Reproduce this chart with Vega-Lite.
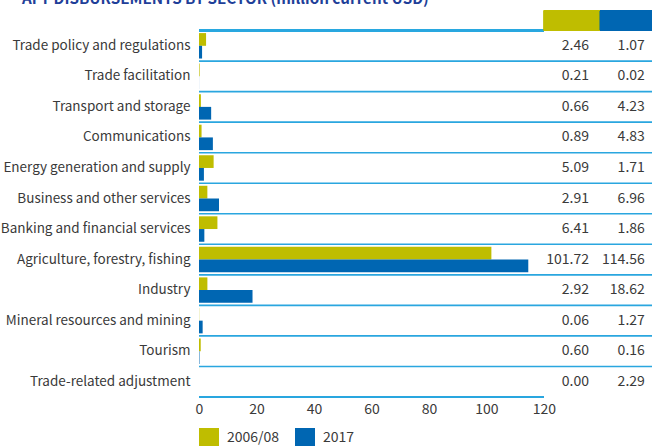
{
  "$schema": "https://vega.github.io/schema/vega-lite/v6.json",
  "width": 453,
  "height": 397,
  "autosize": {"type": "none"},
  "padding": {"left": 199, "top": 0, "right": 0, "bottom": 49},
  "background": "white",
  "config": {
    "view": {"stroke": null},
    "font": "Noto Sans CJK SC, Lato, Liberation Sans, sans-serif"
  },
  "title": {
    "text": "AFT DISBURSEMENTS BY SECTOR (million current USD)",
    "anchor": "start",
    "frame": "group",
    "orient": "top",
    "offset": -19,
    "dx": -177,
    "baseline": "alphabetic",
    "font": "Noto Sans CJK SC, Liberation Sans, sans-serif",
    "fontSize": 15.2,
    "fontWeight": "bold",
    "color": "#1f3f99"
  },
  "data": {
    "values": [
      {"sector": "Trade policy and regulations", "series": "2006/08", "value": 2.46, "bar": 2.46},
      {"sector": "Trade policy and regulations", "series": "2017", "value": 1.07, "bar": 1.07},
      {"sector": "Trade facilitation", "series": "2006/08", "value": 0.21, "bar": 0.21},
      {"sector": "Trade facilitation", "series": "2017", "value": 0.02, "bar": 0.02},
      {"sector": "Transport and storage", "series": "2006/08", "value": 0.66, "bar": 0.66},
      {"sector": "Transport and storage", "series": "2017", "value": 4.23, "bar": 4.23},
      {"sector": "Communications", "series": "2006/08", "value": 0.89, "bar": 0.89},
      {"sector": "Communications", "series": "2017", "value": 4.83, "bar": 4.83},
      {"sector": "Energy generation and supply", "series": "2006/08", "value": 5.09, "bar": 5.09},
      {"sector": "Energy generation and supply", "series": "2017", "value": 1.71, "bar": 1.71},
      {"sector": "Business and other services", "series": "2006/08", "value": 2.91, "bar": 2.91},
      {"sector": "Business and other services", "series": "2017", "value": 6.96, "bar": 6.96},
      {"sector": "Banking and financial services", "series": "2006/08", "value": 6.41, "bar": 6.41},
      {"sector": "Banking and financial services", "series": "2017", "value": 1.86, "bar": 1.86},
      {"sector": "Agriculture, forestry, fishing", "series": "2006/08", "value": 101.72, "bar": 101.72},
      {"sector": "Agriculture, forestry, fishing", "series": "2017", "value": 114.56, "bar": 114.56},
      {"sector": "Industry", "series": "2006/08", "value": 2.92, "bar": 2.92},
      {"sector": "Industry", "series": "2017", "value": 18.62, "bar": 18.62},
      {"sector": "Mineral resources and mining", "series": "2006/08", "value": 0.06, "bar": 0.06},
      {"sector": "Mineral resources and mining", "series": "2017", "value": 1.27, "bar": 1.27},
      {"sector": "Tourism", "series": "2006/08", "value": 0.60, "bar": 0.60},
      {"sector": "Tourism", "series": "2017", "value": 0.16, "bar": 0.16},
      {"sector": "Trade-related adjustment", "series": "2006/08", "value": 0.00, "bar": 0.00},
      {"sector": "Trade-related adjustment", "series": "2017", "value": 2.29, "bar": 0.00}
    ]
  },
  "encoding": {
    "y": {
      "field": "sector",
      "type": "nominal",
      "scale": {
        "domain": ["__hdr", "Trade policy and regulations", "Trade facilitation", "Transport and storage", "Communications", "Energy generation and supply", "Business and other services", "Banking and financial services", "Agriculture, forestry, fishing", "Industry", "Mineral resources and mining", "Tourism", "Trade-related adjustment"],
        "paddingInner": 0,
        "paddingOuter": 0
      },
      "axis": {
        "title": null,
        "domain": false,
        "ticks": false,
        "grid": false,
        "labelPadding": 9,
        "labelFontSize": 13.5,
        "labelColor": "#3a3a3a",
        "labelLimit": 0,
        "labelExpr": "datum.value === '__hdr' ? '' : datum.value"
      }
    }
  },
  "layer": [
    {
      "mark": {"type": "bar"},
      "encoding": {
        "x": {
          "field": "bar",
          "type": "quantitative",
          "scale": {"domain": [0, 157.6], "nice": false, "zero": true},
          "axis": {
            "title": null,
            "values": [0, 20, 40, 60, 80, 100, 120],
            "domain": false,
            "ticks": false,
            "grid": false,
            "labelPadding": 5,
            "labelFontSize": 14,
            "labelColor": "#3a3a3a",
            "labelFlush": false
          }
        },
        "yOffset": {
          "field": "series",
          "type": "nominal",
          "sort": ["2006/08", "2017"],
          "scale": {"paddingInner": 0, "paddingOuter": 0.2}
        },
        "color": {
          "field": "series",
          "type": "nominal",
          "scale": {"domain": ["2006/08", "2017"], "range": ["#bfbd00", "#0066b2"]},
          "legend": {
            "title": null,
            "orient": "bottom",
            "direction": "horizontal",
            "symbolType": "square",
            "symbolSize": 400,
            "symbolStrokeWidth": 0,
            "labelFontSize": 14,
            "labelColor": "#3a3a3a",
            "labelOffset": 8,
            "columnPadding": 15,
            "offset": 12,
            "padding": 0
          }
        }
      }
    },
    {
      "transform": [{"filter": "datum.sector !== 'Trade-related adjustment' && datum.series === '2017'"}],
      "mark": {"type": "rule", "stroke": "#2aa6df", "strokeWidth": 1.6},
      "encoding": {
        "y": {"field": "sector", "type": "nominal", "bandPosition": 1},
        "x": {"datum": 0},
        "x2": {"datum": 157.6}
      }
    },
    {
      "mark": {"type": "rule", "stroke": "#2aa6df", "strokeWidth": 1.6},
      "encoding": {
        "y": {"datum": "Trade-related adjustment", "bandPosition": 1},
        "x": {"datum": 0},
        "x2": {"datum": 120}
      }
    },
    {
      "mark": {"type": "rule", "stroke": "#2aa6df", "strokeWidth": 1.6},
      "encoding": {
        "y": {"datum": "Trade policy and regulations", "bandPosition": 0},
        "x": {"datum": 0},
        "x2": {"datum": 120}
      }
    },
    {
      "mark": {"type": "rule", "stroke": "#bfbd00", "strokeWidth": 20, "strokeCap": "butt"},
      "encoding": {
        "y": {"datum": "__hdr", "bandPosition": 0.67},
        "x": {"datum": 120},
        "x2": {"datum": 139.5}
      }
    },
    {
      "mark": {"type": "rule", "stroke": "#0066b2", "strokeWidth": 20, "strokeCap": "butt"},
      "encoding": {
        "y": {"datum": "__hdr", "bandPosition": 0.67},
        "x": {"datum": 139.5},
        "x2": {"datum": 157.6}
      }
    },
    {
      "transform": [{"filter": "datum.series === '2006/08'"}],
      "mark": {"type": "text", "align": "right", "baseline": "middle", "fontSize": 14, "color": "#3a3a3a"},
      "encoding": {
        "x": {"datum": 135.7},
        "text": {"field": "value", "type": "quantitative", "format": ".2f"}
      }
    },
    {
      "transform": [{"filter": "datum.series === '2017'"}],
      "mark": {"type": "text", "align": "right", "baseline": "middle", "fontSize": 14, "color": "#3a3a3a"},
      "encoding": {
        "x": {"datum": 155.1},
        "text": {"field": "value", "type": "quantitative", "format": ".2f"}
      }
    }
  ]
}
